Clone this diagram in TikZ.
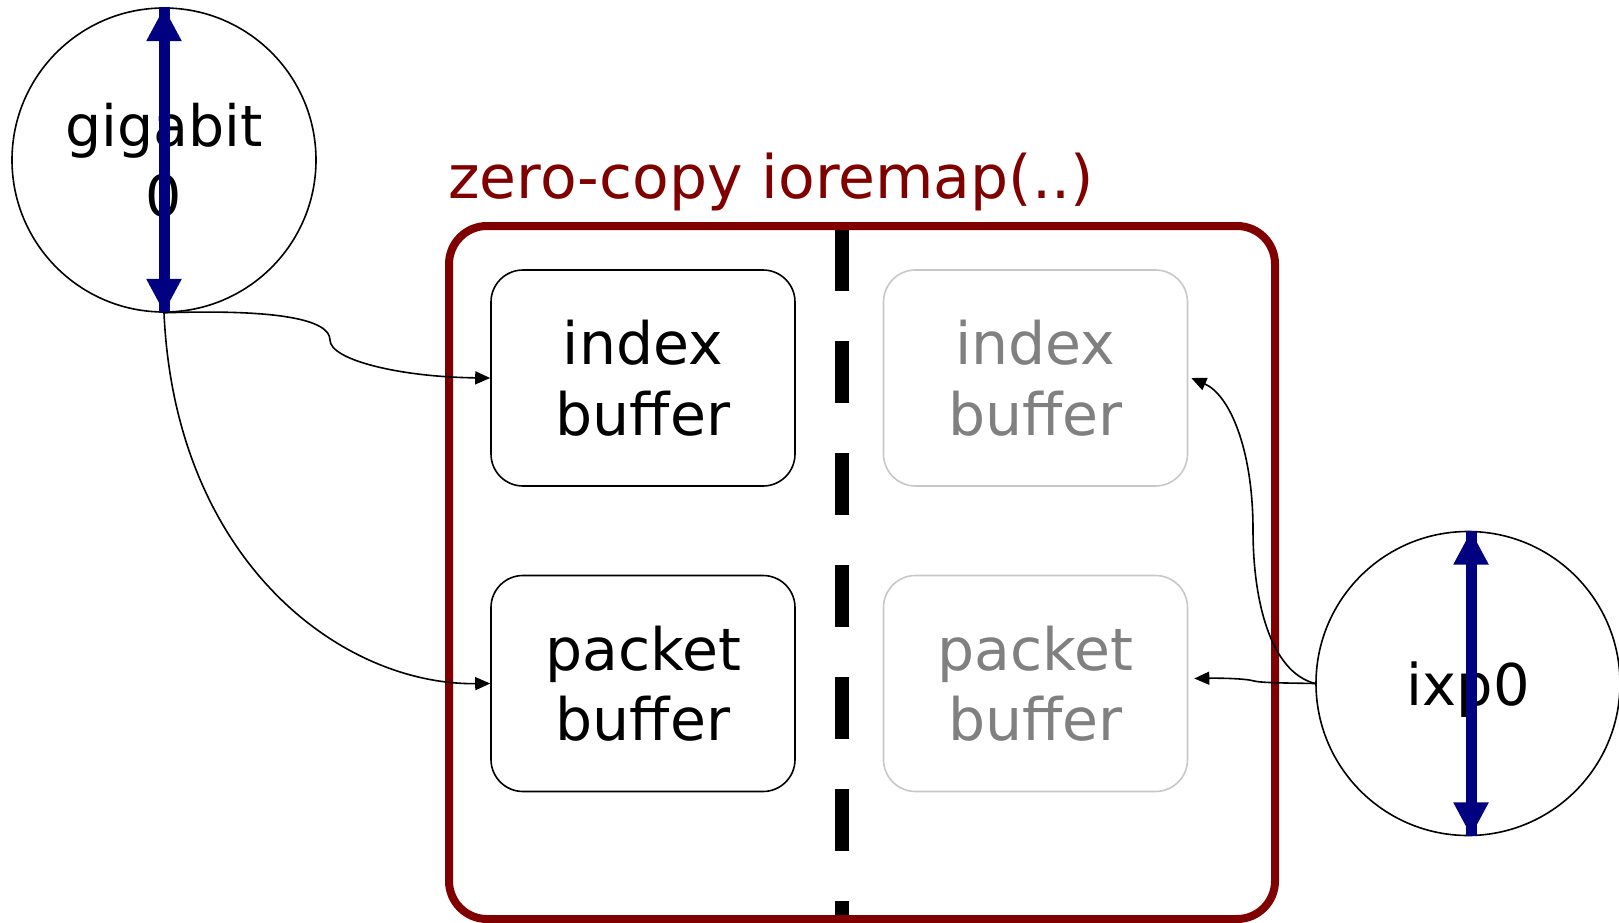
\documentclass[tikz,border=0pt]{standalone}
\usepackage{fontspec}
\setmainfont{DejaVu Sans}
\usetikzlibrary{arrows.meta,calc}
\definecolor{maroonred}{RGB}{128,0,0}
\definecolor{navyblue}{RGB}{0,0,128}
\definecolor{fadedline}{RGB}{200,200,200}
\definecolor{fadedtext}{RGB}{128,128,128}

\begin{document}
\begin{tikzpicture}[x=1pt,y=-1pt,
  port/.style={circle, draw, line width=1.6pt, minimum size=304pt, inner sep=0pt,
    align=center, font=\fontsize{57}{70}\selectfont},
  buf/.style={rectangle, rounded corners=32pt, draw, line width=1.6pt,
    minimum width=304pt, minimum height=216pt, inner sep=0pt,
    align=center, font=\fontsize{58.5}{70.5}\selectfont},
  faded/.style={buf, draw=fadedline, text=fadedtext},
  link/.style={line width=1.6pt, -{Triangle[length=15pt,width=13pt]}},
  bidir/.style={draw=navyblue, line width=11pt,
    postaction={draw=navyblue, line width=11pt,
      {Triangle[length=34pt,width=33pt]}-{Triangle[length=34pt,width=33pt]}}},
]
\useasboundingbox (0,0) rectangle (1619,923);
\fill[white] (0,0) rectangle (1619,923);

% shared memory region, split into two halves
\draw[line width=14pt, dash pattern=on 62pt off 50pt] (841.5,229) -- (841.5,919);
\node[draw=maroonred, line width=8pt, rounded corners=38pt, minimum width=826pt,
      minimum height=693pt, inner sep=0pt] (zc) at (862,572.5) {};
\node[anchor=base west, text=maroonred, inner sep=0pt,
      font=\fontsize{60}{70}\selectfont] (zctitle) at (448,198) {zero-copy ioremap(..)};

% buffers
\node[buf] (idx) at (643,378) {index\\buffer};
\node[buf] (pkt) at (643,683.5) {packet\\buffer};
\node[faded] (gidx) at (1035.5,378) {index\\buffer};
\node[faded] (gpkt) at (1035.5,683.5) {packet\\buffer};

% network interfaces
\node[port] (gig) at (164,160) {gigabit\\0};
\node[port, text depth=0pt, font=\fontsize{57.5}{70}\selectfont] (ixp) at (1468,683.5) {ixp0};
\draw[bidir] (gig.north) -- (gig.south);
\draw[bidir] ($(ixp.north)+(3,0)$) -- ($(ixp.south)+(3,0)$);

% data paths
\draw[link] (gig.south) .. controls (280,309) and (330,320) .. (330,340)
            .. controls (330,360) and (400,377) .. (idx.west);
\draw[link] (gig.south) .. controls (175,560) and (340,685) .. (pkt.west);
\draw[link] (ixp.west) .. controls (1270,672) and (1253,600) .. (1253,530)
            .. controls (1253,450) and (1230,395) .. ($(gidx.east)+(3,0)$);
\draw[link] (ixp.west) .. controls (1290,683) and (1262,683) .. (1254,681)
            .. controls (1246,678.5) and (1220,678) .. ($(gpkt.east)+(6,-5)$);
\end{tikzpicture}
\end{document}
